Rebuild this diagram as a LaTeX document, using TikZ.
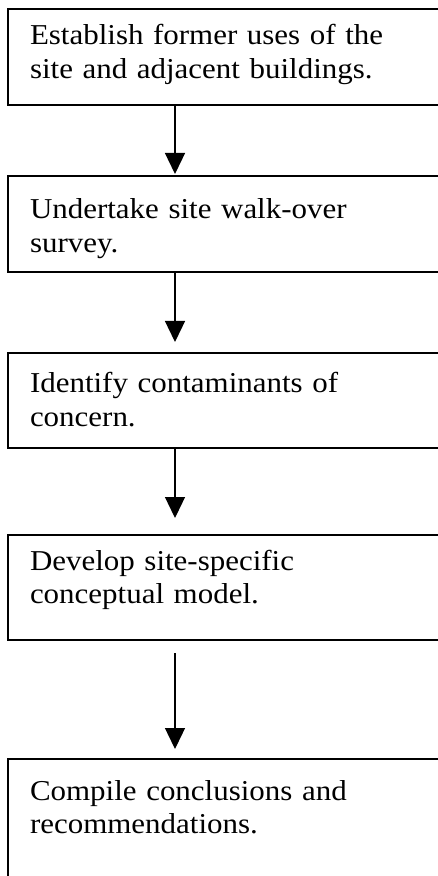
\documentclass[tikz,border=0pt]{standalone}
\usepackage{fontspec}
\setmainfont{Liberation Serif}[FakeStretch=1.075]
\usepackage{tikz}
\usetikzlibrary{arrows.meta, positioning}

\begin{document}
\begin{tikzpicture}[x=0.5pt, y=-0.5pt,
  box/.style={draw, rectangle, line width=1pt, anchor=north west,
    text width=215pt, align=left, inner xsep=11pt, inner ysep=0pt,
    font=\fontsize{14.4}{16.75}\selectfont},
  flow/.style={-{Triangle[width=10pt,length=10.5pt]}, line width=0.65pt}]
\useasboundingbox (0,0) rectangle (438,876);
\clip (0,0) rectangle (438,876);

\node (E) [box, text height=18pt, text depth=30pt] at (7,8)
  {Establish former uses of the\\ site and adjacent buildings.};
\node (U) [box, text height=21.5pt, text depth=26.5pt] at (7,175)
  {Undertake site walk-over\\ survey.};
\node (I) [box, text height=20pt, text depth=27.5pt] at (7,352)
  {Identify contaminants of\\ concern.};
\node (D) [box, text height=17.5pt, text depth=35pt] at (7,534)
  {Develop site-specific\\ conceptual model.};
\node (C) [box, text height=20.5pt, text depth=60pt] at (7,758)
  {Compile conclusions and\\ recommendations.};

% arrow tips stop just above the next box
\coordinate (tU) at (175,174);
\coordinate (tI) at (175,342);
\coordinate (tD) at (175,518);
\coordinate (sC) at (175,653);
\coordinate (tC) at (175,749);

\draw[flow] (E.south -| tU) -- (tU);
\draw[flow] (U.south -| tI) -- (tI);
\draw[flow] (I.south -| tD) -- (tD);
\draw[flow] (sC) -- (tC);
\end{tikzpicture}
\end{document}
